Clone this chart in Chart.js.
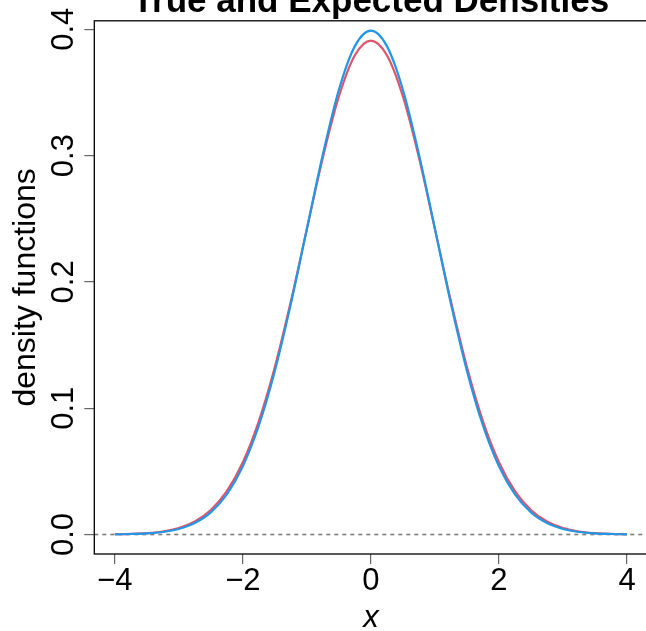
<!DOCTYPE html>
<html>
<head>
<meta charset="utf-8">
<title>True and Expected Densities</title>
<script src="https://cdn.jsdelivr.net/npm/chart.js@4.4.1/dist/chart.umd.min.js"></script>
<style>
  html, body { margin: 0; padding: 0; background: #fff; overflow: hidden; }
  #wrap { width: 650px; height: 631px; }
</style>
</head>
<body>
<div id="wrap"><canvas id="chart" width="650" height="631"></canvas></div>
<script>
const xs = [-4, -3.75, -3.5, -3.25, -3, -2.75, -2.5, -2.25, -2, -1.75, -1.5, -1.25, -1, -0.75, -0.5, -0.25,
  0, 0.25, 0.5, 0.75, 1, 1.25, 1.5, 1.75, 2, 2.25, 2.5, 2.75, 3, 3.25, 3.5, 3.75, 4];

// expected density (red), slightly flatter
const expectedDens = [0.0002, 0.0005, 0.0011, 0.0024, 0.0052, 0.0103, 0.0194, 0.0343, 0.0572, 0.0898, 0.1326, 0.1846, 0.2419, 0.2985, 0.3468, 0.3795,
  0.3911, 0.3795, 0.3468, 0.2985, 0.2419, 0.1846, 0.1326, 0.0898, 0.0572, 0.0343, 0.0194, 0.0103, 0.0052, 0.0024, 0.0011, 0.0005, 0.0002];

// true density (blue)
const trueDens = [0.0001, 0.0004, 0.0009, 0.0020, 0.0044, 0.0091, 0.0175, 0.0317, 0.0540, 0.0863, 0.1295, 0.1826, 0.2420, 0.3011, 0.3521, 0.3867,
  0.3989, 0.3867, 0.3521, 0.3011, 0.2420, 0.1826, 0.1295, 0.0863, 0.0540, 0.0317, 0.0175, 0.0091, 0.0044, 0.0020, 0.0009, 0.0004, 0.0001];

const xTicks = [-4, -2, 0, 2, 4];
const yTicks = [0, 0.1, 0.2, 0.3, 0.4];
const yTickLabels = ['0.0', '0.1', '0.2', '0.3', '0.4'];

const mainTitle = 'True and Expected Densities';
const xTitle = 'x';
const yTitle = 'density functions';

// R style 4% padding on the plotted range
function padRange(vals) {
  const lo = Math.min(...vals), hi = Math.max(...vals);
  const d = (hi - lo) * 0.04;
  return [lo - d, hi + d];
}
const [xMin, xMax] = padRange(xs);
const [yMin, yMax] = padRange(expectedDens);

const FONT = '"Liberation Sans", Arial, Helvetica, sans-serif';

const toPoints = (ys) => xs.map((x, i) => ({ x: x, y: ys[i] }));

const rPlot = {
  id: 'rPlot',
  beforeDatasetsDraw(chart) {
    const { ctx, chartArea: a, scales: { y } } = chart;
    const py = y.getPixelForValue(0);
    ctx.save();
    ctx.beginPath();
    ctx.rect(a.left, a.top, a.right - a.left, a.bottom - a.top);
    ctx.clip();
    ctx.setLineDash([4, 4]);
    ctx.strokeStyle = '#7a7a7a';
    ctx.lineWidth = 1.6;
    ctx.beginPath();
    ctx.moveTo(a.left, py);
    ctx.lineTo(a.right, py);
    ctx.stroke();
    ctx.restore();
  },
  afterDraw(chart) {
    const { ctx, chartArea: a, scales: { x, y } } = chart;
    ctx.save();
    // box
    ctx.strokeStyle = '#000';
    ctx.lineWidth = 1.3;
    ctx.strokeRect(a.left, a.top, a.right - a.left, a.bottom - a.top);

    ctx.fillStyle = '#000';
    ctx.textAlign = 'center';
    ctx.textBaseline = 'alphabetic';

    // x tick labels
    ctx.font = '31px ' + FONT;
    xTicks.forEach((v) => {
      const lab = v < 0 ? '\u2212' + Math.abs(v) : String(v);
      ctx.fillText(lab, x.getPixelForValue(v), a.bottom + 35.5);
    });

    // x title
    ctx.font = 'italic 31px ' + FONT;
    ctx.fillText(xTitle, (a.left + a.right) / 2, 627);

    // y tick labels, rotated like R's las=0
    ctx.font = '31px ' + FONT;
    yTicks.forEach((v, i) => {
      ctx.save();
      ctx.translate(73, y.getPixelForValue(v));
      ctx.rotate(-Math.PI / 2);
      ctx.fillText(yTickLabels[i], 0, 0);
      ctx.restore();
    });

    // y title
    ctx.font = '32px ' + FONT;
    ctx.save();
    ctx.translate(35, (a.top + a.bottom) / 2);
    ctx.rotate(-Math.PI / 2);
    ctx.fillText(yTitle, 0, 0);
    ctx.restore();

    // main title (clipped at top as in the original)
    ctx.font = 'bold 35px ' + FONT;
    ctx.fillText(mainTitle, (a.left + a.right) / 2, 12);
    ctx.restore();
  }
};

new Chart(document.getElementById('chart'), {
  type: 'line',
  data: {
    datasets: [
      {
        label: 'true',
        data: toPoints(trueDens),
        borderColor: '#2297E6',
        borderWidth: 2.2,
        pointRadius: 0,
        fill: false,
        cubicInterpolationMode: 'monotone'
      },
      {
        label: 'expected',
        data: toPoints(expectedDens),
        borderColor: '#DF536B',
        borderWidth: 2.2,
        pointRadius: 0,
        fill: false,
        cubicInterpolationMode: 'monotone'
      }
    ]
  },
  options: {
    responsive: false,
    animation: false,
    events: [],
    layout: { padding: { top: 20.8, right: 2.5, left: 0, bottom: 0 } },
    plugins: {
      legend: { display: false },
      tooltip: { enabled: false },
      title: { display: false }
    },
    scales: {
      x: {
        type: 'linear',
        min: xMin,
        max: xMax,
        afterBuildTicks: (s) => { s.ticks = xTicks.map((v) => ({ value: v })); },
        afterFit: (s) => { s.height = 77; },
        ticks: { display: false },
        border: { display: false },
        grid: { drawOnChartArea: false, drawTicks: true, tickLength: 10, color: '#666', lineWidth: 1.2 }
      },
      y: {
        type: 'linear',
        min: yMin,
        max: yMax,
        afterBuildTicks: (s) => { s.ticks = yTicks.map((v) => ({ value: v })); },
        afterFit: (s) => { s.width = 94.3; },
        ticks: { display: false },
        border: { display: false },
        grid: { drawOnChartArea: false, drawTicks: true, tickLength: 10, color: '#666', lineWidth: 1.2 }
      }
    }
  },
  plugins: [rPlot]
});
</script>
</body>
</html>
